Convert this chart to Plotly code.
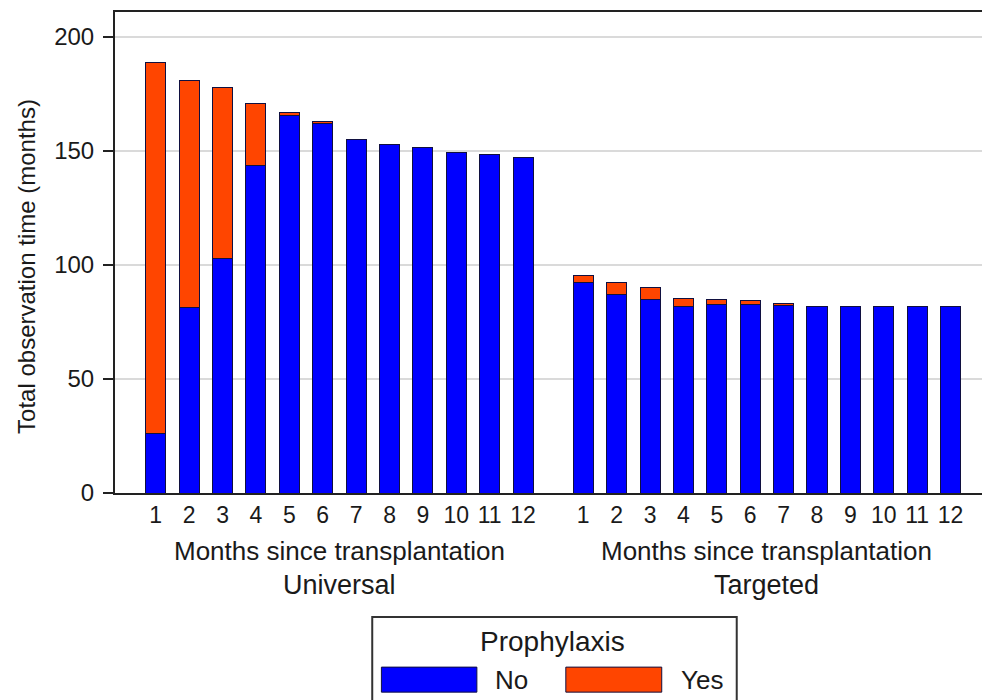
import plotly.graph_objects as go

months = [str(m) for m in range(1, 13)]
groups = ["Universal", "Targeted"]

# observation time (months) by prophylaxis status
universal_no = [26, 81.5, 103, 143.5, 165.5, 162, 155, 153, 151.5, 149.5, 148.7, 147]
universal_yes = [163, 99.5, 75, 27.5, 1.5, 1, 0, 0, 0, 0, 0, 0]
targeted_no = [92.3, 87, 85, 82, 82.7, 82.8, 82.2, 82, 82, 82, 82, 82]
targeted_yes = [3.3, 5.4, 5.2, 3.5, 2.2, 1.5, 0.8, 0, 0, 0, 0, 0]

BLUE = "#0000ff"
ORANGE = "#ff4500"
OUTLINE = "#101040"
TEXT = "#1a1a1a"
FONT = "Liberation Sans, Arial, sans-serif"
GROUP_OFFSET = 12.8  # where the second panel starts on the shared x axis

x_univ = list(range(1, 13))
x_targ = [m + GROUP_OFFSET for m in range(1, 13)]
x_all = x_univ + x_targ

fig = go.Figure()
fig.add_trace(
    go.Bar(
        x=x_all,
        y=universal_no + targeted_no,
        name="No",
        marker=dict(color=BLUE, line=dict(color=OUTLINE, width=1)),
        width=0.6,
    )
)
fig.add_trace(
    go.Bar(
        x=x_all,
        y=universal_yes + targeted_yes,
        name="Yes",
        marker=dict(color=ORANGE, line=dict(color=OUTLINE, width=1)),
        width=0.6,
    )
)


def label(x, y, text, size, xref="paper", **kw):
    return dict(x=x, y=y, xref=xref, yref="paper", text=text, showarrow=False,
                xanchor=kw.pop("xanchor", "center"), yanchor="middle",
                font=dict(size=size, color=TEXT), **kw)


annotations = [
    # y axis title placed by hand so it sits where the original does
    label(-0.101, 0.472, "Total observation time (months)", 24, textangle=-90),
]
for center, group in zip([6.5, 6.5 + GROUP_OFFSET], groups):
    annotations.append(label(center, -0.121, "Months since transplantation", 26, xref="x"))
    annotations.append(label(center, -0.191, group, 27, xref="x"))

# hand-drawn legend box (Stata style, wide swatches)
annotations += [
    label(0.502, -0.308, "Prophylaxis", 28),
    label(0.433, -0.389, "No", 26, xanchor="left"),
    label(0.647, -0.389, "Yes", 26, xanchor="left"),
]
shapes = [
    dict(type="rect", xref="paper", yref="paper", x0=0.295, x1=0.713, y0=-0.46, y1=-0.258,
         line=dict(color="#333", width=2), fillcolor="white"),
    dict(type="rect", xref="paper", yref="paper", x0=0.3055, x1=0.415, y0=-0.414, y1=-0.362,
         line=dict(color=OUTLINE, width=1), fillcolor=BLUE),
    dict(type="rect", xref="paper", yref="paper", x0=0.517, x1=0.627, y0=-0.414, y1=-0.362,
         line=dict(color=OUTLINE, width=1), fillcolor=ORANGE),
]

fig.update_layout(
    barmode="stack",
    width=982,
    height=692,
    margin=dict(l=107, r=1, t=4, b=207),
    paper_bgcolor="white",
    plot_bgcolor="white",
    font=dict(family=FONT, color=TEXT),
    showlegend=False,
    annotations=annotations,
    shapes=shapes,
    xaxis=dict(
        range=[-0.22, 12 + GROUP_OFFSET + 1.09],
        tickvals=x_all,
        ticktext=months + months,
        tickfont=dict(size=23),
        showgrid=False,
        showline=True,
        linecolor="#222",
        linewidth=2,
        mirror=True,
        ticks="",
        zeroline=False,
    ),
    yaxis=dict(
        range=[0, 211],
        tickvals=[0, 50, 100, 150, 200],
        tickfont=dict(size=24),
        ticklabelstandoff=4,
        showgrid=True,
        gridcolor="#dadada",
        gridwidth=1.5,
        showline=True,
        linecolor="#222",
        linewidth=2,
        mirror=True,
        ticks="outside",
        ticklen=10,
        tickwidth=1.5,
        tickcolor="#222",
        zeroline=False,
    ),
)

fig.write_html("out.html")
